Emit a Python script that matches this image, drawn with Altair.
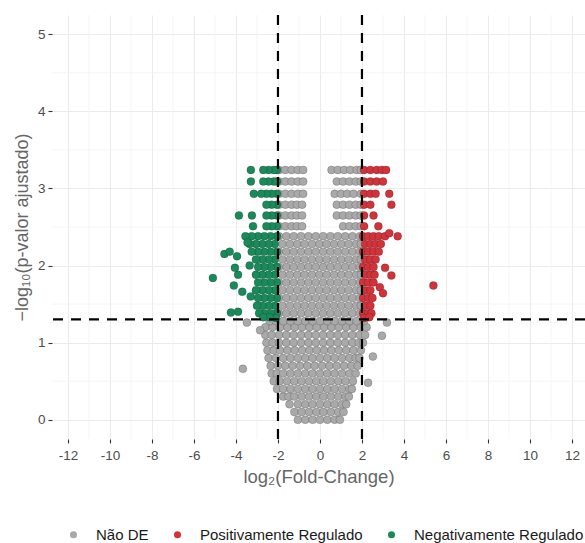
import altair as alt
import pandas as pd

# ---------------- data ----------------
group_names = ["Não DE", "Positivamente Regulado", "Negativamente Regulado"]
group_colors = ["#A9A9A9", "#D1333B", "#1B8A5A"]

x_ticks = [-12, -10, -8, -6, -4, -2, 0, 2, 4, 6, 8, 10, 12]
y_ticks = [0, 1, 2, 3, 4, 5]
x_minor = [-11, -9, -7, -5, -3, -1, 1, 3, 5, 7, 9, 11]
y_minor = [0.5, 1.5, 2.5, 3.5, 4.5]
fc_cut = [-2, 2]
p_cut = [1.30103]

# grey ("Não DE") points, row by row (y level, x positions)
grey_y = [0.00, 0.10, 0.20, 0.30, 0.40, 0.50, 0.60, 0.70, 0.80, 0.90,
          1.00, 1.10, 1.20, 1.28, 1.38, 1.48, 1.58, 1.68, 1.78, 1.88,
          1.98, 2.08, 2.18, 2.28, 2.38, 2.51, 2.65, 2.79, 2.93, 3.09, 3.24]
grey_x = [
    [-1.05, -0.7, -0.35, 0.0, 0.35, 0.7, 0.95],
    [-1.22, -0.87, -0.52, -0.17, 0.17, 0.52, 0.87, 1.12],
    [-1.45, -1.05, -0.7, -0.35, 0.0, 0.35, 0.7, 1.05, 1.25],
    [-1.75, -1.5, -1.22, -0.87, -0.52, -0.17, 0.17, 0.52, 0.87, 1.22, 1.38],
    [-2.05, -1.75, -1.4, -1.05, -0.7, -0.35, 0.0, 0.35, 0.7, 1.05, 1.4, 1.52],
    [-2.2, -1.92, -1.57, -1.22, -0.87, -0.52, -0.17, 0.17, 0.52, 0.87, 1.22, 1.57],
    [-2.3, -2.05, -1.75, -1.4, -1.05, -0.7, -0.35, 0.0, 0.35, 0.7, 1.05, 1.4, 1.7],
    [-2.35, -2.0, -1.65, -1.3, -0.95, -0.6, -0.25, 0.1, 0.45, 0.8, 1.15, 1.5, 1.8],
    [-2.45, -2.1, -1.75, -1.4, -1.05, -0.7, -0.35, 0.0, 0.35, 0.7, 1.05, 1.4, 1.7, 1.88],
    [-2.5, -2.2, -1.9, -1.55, -1.2, -0.85, -0.5, -0.15, 0.2, 0.55, 0.9, 1.25, 1.6, 1.95],
    [-2.55, -2.25, -1.95, -1.6, -1.25, -0.9, -0.55, -0.2, 0.15, 0.5, 0.85, 1.2, 1.55, 1.85, 2.05],
    [-2.6, -2.3, -1.95, -1.6, -1.25, -0.9, -0.55, -0.2, 0.15, 0.5, 0.85, 1.2, 1.55, 1.9, 2.15],
    [-2.6, -2.25, -1.9, -1.55, -1.2, -0.85, -0.5, -0.15, 0.2, 0.55, 0.9, 1.25, 1.6, 1.95, 2.22],
    [-2.4, -2.1, -1.75, -1.4, -1.05, -0.7, -0.35, 0.0, 0.35, 0.7, 1.05, 1.4, 1.75, 2.1],
    [-1.95, -1.6, -1.25, -0.9, -0.55, -0.2, 0.15, 0.5, 0.85, 1.2, 1.55, 1.9],
    [-1.78, -1.43, -1.08, -0.73, -0.38, -0.03, 0.32, 0.67, 1.02, 1.37, 1.72, 1.95],
    [-1.95, -1.6, -1.25, -0.9, -0.55, -0.2, 0.15, 0.5, 0.85, 1.2, 1.55, 1.9],
    [-1.78, -1.43, -1.08, -0.73, -0.38, -0.03, 0.32, 0.67, 1.02, 1.37, 1.72, 1.95],
    [-1.95, -1.6, -1.25, -0.9, -0.55, -0.2, 0.15, 0.5, 0.85, 1.2, 1.55, 1.9],
    [-1.78, -1.43, -1.08, -0.73, -0.38, -0.03, 0.32, 0.67, 1.02, 1.37, 1.72, 1.95],
    [-1.95, -1.6, -1.25, -0.9, -0.55, -0.2, 0.15, 0.5, 0.85, 1.2, 1.55, 1.9],
    [-1.78, -1.43, -1.08, -0.73, -0.38, -0.03, 0.32, 0.67, 1.02, 1.37, 1.72, 1.95],
    [-1.95, -1.6, -1.25, -0.9, -0.55, -0.2, 0.15, 0.5, 0.85, 1.2, 1.55, 1.9],
    [-1.78, -1.43, -1.08, -0.73, -0.38, -0.03, 0.32, 0.67, 1.02, 1.37, 1.72, 1.95],
    [-1.95, -1.6, -1.25, -0.9, -0.55, -0.2, 0.15, 0.5, 0.85, 1.2, 1.55, 1.9],
    [-1.95, -1.65, -1.35, -1.1, -0.85, 1.1, 1.4, 1.7, 1.95],
    [-1.95, -1.65, -1.35, -1.1, -0.85, 0.8, 1.1, 1.4, 1.7, 1.95],
    [-1.95, -1.65, -1.35, -1.1, -0.85, 0.8, 1.1, 1.4, 1.7, 1.95],
    [-1.95, -1.65, -1.35, -1.05, -0.8, 0.7, 1.0, 1.3, 1.6, 1.95],
    [-1.95, -1.65, -1.35, -1.05, -0.8, 0.8, 1.1, 1.4, 1.7, 1.95],
    [-1.95, -1.65, -1.35, -1.05, -0.8, 0.55, 0.85, 1.15, 1.45, 1.75, 1.95],
]
grey_out_x = [-3.48, -3.67, 3.19, 2.95, 2.52, 2.29, -2.85]
grey_out_y = [1.26, 0.66, 1.26, 1.09, 0.82, 0.48, 1.16]

# red ("Positivamente Regulado") points
up_y = [1.38, 1.48, 1.58, 1.68, 1.78, 1.88, 1.98, 2.08, 2.18, 2.28, 2.38,
        2.51, 2.65, 2.79, 2.93, 3.09, 3.24]
up_x = [
    [2.05, 2.3, 2.45],
    [2.15, 2.4],
    [2.05, 2.3, 2.5],
    [2.15, 2.4],
    [2.05, 2.3, 2.55],
    [2.15, 2.4, 2.6],
    [2.05, 2.3, 2.55],
    [2.15, 2.4, 2.65],
    [2.05, 2.3, 2.55, 2.8],
    [2.15, 2.4, 2.65, 2.9],
    [2.05, 2.3, 2.55, 2.8, 3.1],
    [2.1, 2.78],
    [2.1, 2.55],
    [2.1, 2.4, 3.4],
    [2.1, 2.4, 2.65, 3.3],
    [2.1, 2.4, 2.7, 3.0],
    [2.1, 2.4, 2.7, 2.95, 3.15],
]
up_out_x = [3.7, 3.3, 3.1, 3.4, 5.4, 2.85, 3.0, 2.1, 2.35]
up_out_y = [2.38, 2.42, 1.97, 1.87, 1.74, 1.72, 1.64, 1.32, 1.33]

# green ("Negativamente Regulado") points
down_y = [1.38, 1.48, 1.58, 1.68, 1.78, 1.88, 1.98, 2.08, 2.18, 2.28, 2.38,
          2.51, 2.65, 2.79, 2.93, 3.09, 3.24]
down_x = [
    [-2.05, -2.35, -2.65, -2.9],
    [-2.15, -2.45, -2.75, -3.0],
    [-2.05, -2.35, -2.65, -2.95],
    [-2.15, -2.45, -2.75, -3.05],
    [-2.05, -2.35, -2.65, -2.95],
    [-2.15, -2.45, -2.75, -3.05],
    [-2.05, -2.35, -2.65, -2.95],
    [-2.15, -2.45, -2.75, -3.05],
    [-2.05, -2.35, -2.65, -2.95, -3.25],
    [-2.15, -2.45, -2.75, -3.05, -3.35],
    [-2.05, -2.35, -2.65, -2.95, -3.25, -3.55],
    [-2.05, -2.3, -2.55, -3.19],
    [-2.05, -2.3, -2.55, -3.24, -3.86],
    [-2.05, -2.3, -2.55],
    [-2.05, -2.3, -2.55, -2.8, -3.15],
    [-2.05, -2.2, -2.45, -2.7, -3.29],
    [-2.05, -2.2, -2.45, -2.7, -3.29],
]
down_out_x = [-4.55, -4.3, -3.95, -5.1, -3.9, -4.05, -4.1, -3.7, -4.24, -3.9,
              -3.45, -3.35, -3.3, -2.1, -2.4, -2.7]
down_out_y = [2.15, 2.18, 2.12, 1.84, 1.88, 1.97, 1.74, 1.66, 1.39, 1.40,
              2.30, 2.00, 1.60, 1.32, 1.33, 1.33]

# ---------------- build table ----------------
records = []


def add_rows(group, ys, xs_rows):
    for y, xs in zip(ys, xs_rows):
        for x in xs:
            records.append({"fc": x, "p": y, "grupo": group})


def add_points(group, xs, ys):
    for x, y in zip(xs, ys):
        records.append({"fc": x, "p": y, "grupo": group})


add_rows(group_names[0], grey_y, grey_x)
add_points(group_names[0], grey_out_x, grey_out_y)
add_rows(group_names[1], up_y, up_x)
add_points(group_names[1], up_out_x, up_out_y)
add_rows(group_names[2], down_y, down_x)
add_points(group_names[2], down_out_x, down_out_y)
df = pd.DataFrame(records)

FONT = "Liberation Sans"
x_scale = alt.Scale(domain=[-12.76, 12.62], nice=False, zero=False)
y_scale = alt.Scale(domain=[-0.25, 5.25], nice=False, zero=False)

x_axis = alt.Axis(values=x_ticks, title="log₂(Fold-Change)", grid=True,
                  gridColor="#EBEBEB", gridWidth=1.1, domain=False,
                  ticks=True, tickColor="#333333", tickSize=4, tickWidth=1.1,
                  labelPadding=5, labelFontSize=13.5, labelColor="#4D4D4D",
                  labelExpr="'' + datum.value", titlePadding=6,
                  titleFontSize=18.5, titleColor="#666666",
                  titleFontWeight="normal", labelFont=FONT, titleFont=FONT)
y_axis = alt.Axis(values=y_ticks, title="−log₁₀(p-valor ajustado)", grid=True,
                  gridColor="#EBEBEB", gridWidth=1.1, domain=False,
                  ticks=True, tickColor="#333333", tickSize=4, tickWidth=1.1,
                  labelPadding=3, labelFontSize=13.5, labelColor="#4D4D4D",
                  labelExpr="'' + datum.value", titlePadding=6,
                  titleFontSize=18, titleColor="#666666",
                  titleFontWeight="normal", labelFont=FONT, titleFont=FONT)

minor_x = alt.Chart(pd.DataFrame({"v": x_minor})).mark_rule(
    color="#F3F3F3", strokeWidth=0.8
).encode(x=alt.X("v:Q", scale=x_scale, axis=x_axis))
minor_y = alt.Chart(pd.DataFrame({"v": y_minor})).mark_rule(
    color="#F3F3F3", strokeWidth=0.8
).encode(y=alt.Y("v:Q", scale=y_scale, axis=y_axis))

points = alt.Chart(df).mark_circle(
    size=64, opacity=1, stroke="#000000", strokeWidth=0.6, strokeOpacity=0.28
).encode(
    x=alt.X("fc:Q", scale=x_scale, axis=x_axis),
    y=alt.Y("p:Q", scale=y_scale, axis=y_axis),
    fill=alt.Fill("grupo:N",
                  scale=alt.Scale(domain=group_names, range=group_colors),
                  sort=group_names,
                  legend=alt.Legend(orient="none", legendX=14, legendY=512,
                                    direction="horizontal", title=None,
                                    labelFontSize=15, labelColor="#1A1A1A",
                                    labelFont=FONT, labelLimit=400,
                                    symbolSize=50, symbolType="circle",
                                    symbolStrokeWidth=0,
                                    labelOffset=15, columnPadding=21)),
)

vlines = alt.Chart(pd.DataFrame({"v": fc_cut})).mark_rule(
    color="black", strokeWidth=2.2, strokeDash=[10, 8]
).encode(x=alt.X("v:Q", scale=x_scale))
hline = alt.Chart(pd.DataFrame({"v": p_cut})).mark_rule(
    color="black", strokeWidth=2.2, strokeDash=[10, 8]
).encode(y=alt.Y("v:Q", scale=y_scale))

chart = alt.layer(minor_x, minor_y, points, vlines, hline).properties(
    width=533, height=424,
    autosize=alt.AutoSizeParams(type="none"),
    padding={"left": 52, "top": 15, "right": 0, "bottom": 104},
    background="white",
).configure_view(stroke=None)

chart.save("out.html", embed_options={"renderer": "svg", "actions": False})
